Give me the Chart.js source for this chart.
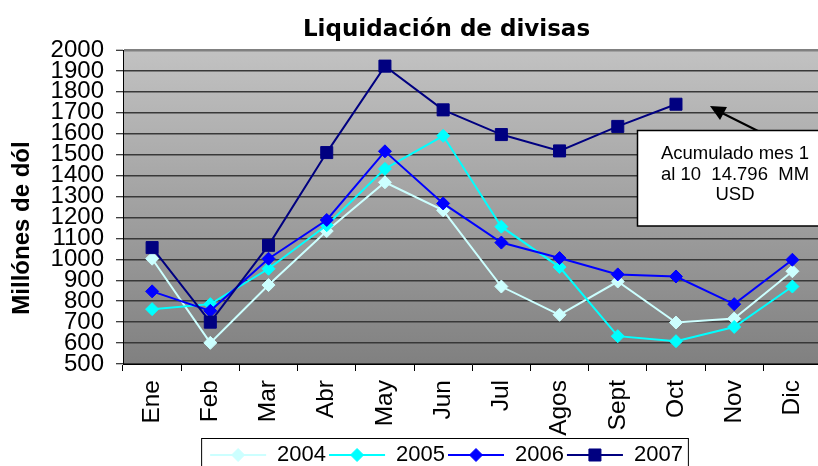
<!DOCTYPE html>
<html>
<head>
<meta charset="utf-8">
<script src="https://cdn.jsdelivr.net/npm/chart.js@4/dist/chart.umd.min.js"></script>
<style>
  html, body { margin: 0; padding: 0; background: #ffffff; overflow: hidden; }
  #wrap { width: 818px; height: 466px; overflow: hidden; position: relative; }
  canvas { display: block; }
</style>
</head>
<body>
<div id="wrap"><canvas id="c" width="893" height="466"></canvas></div>
<script>
// ---- data ----
const categories = ['Ene', 'Feb', 'Mar', 'Abr', 'May', 'Jun', 'Jul', 'Agos', 'Sept', 'Oct', 'Nov', 'Dic'];
const seriesNames = ['2004', '2005', '2006', '2007'];
const values2004 = [1003, 601, 877, 1135, 1368, 1234, 870, 735, 894, 698, 717, 943];
const values2005 = [762, 786, 955, 1163, 1432, 1590, 1156, 963, 633, 609, 677, 870];
const values2006 = [847, 754, 1003, 1188, 1516, 1267, 1080, 1006, 928, 918, 786, 998];
const values2007 = [1056, 700, 1067, 1510, 1923, 1714, 1596, 1518, 1635, 1741, null, null];
const yTickValues = [500, 600, 700, 800, 900, 1000, 1100, 1200, 1300, 1400, 1500, 1600, 1700, 1800, 1900, 2000];
const chartTitle = 'Liquidación de divisas';
const yAxisTitle = 'Millónes de dól';
const annotationLines = ['Acumulado mes 1', 'al 10  14.796  MM', 'USD'];

const seriesColors = ['#ccffff', '#00ffff', '#0000ff', '#000080'];
const seriesMarkers = ['rectRot', 'rectRot', 'rectRot', 'rect'];
const markerRadius = [6.5, 6.5, 6.5, 8.5];
const seriesValues = [values2004, values2005, values2006, values2007];

const LEGEND_BOX_W = 56;

const datasets = seriesNames.map((name, i) => ({
  label: name,
  data: seriesValues[i],
  borderColor: seriesColors[i],
  backgroundColor: seriesColors[i],
  borderWidth: 2,
  pointStyle: seriesMarkers[i],
  pointRadius: markerRadius[i],
  pointHoverRadius: markerRadius[i],
  pointBackgroundColor: seriesColors[i],
  pointBorderColor: seriesColors[i],
  pointBorderWidth: 1,
  tension: 0,
  spanGaps: false,
  order: seriesNames.length - i
}));

// ---- plugins ----
const plotBackground = {
  id: 'plotBackground',
  beforeDraw(chart) {
    const { ctx, chartArea: a } = chart;
    const g = ctx.createLinearGradient(0, a.top, 0, a.bottom);
    g.addColorStop(0, '#c2c2c2');
    g.addColorStop(1, '#808080');
    ctx.save();
    ctx.fillStyle = g;
    ctx.fillRect(a.left, a.top, a.right - a.left, a.bottom - a.top);
    ctx.restore();
  }
};

const yTitlePlugin = {
  id: 'yTitlePlugin',
  afterDraw(chart) {
    const { ctx, chartArea: a } = chart;
    ctx.save();
    ctx.translate(a.left - 101, (a.top + a.bottom) / 2 + 21);
    ctx.rotate(-Math.PI / 2);
    ctx.font = 'bold 24px "Liberation Sans", Arial, sans-serif';
    ctx.fillStyle = '#000000';
    ctx.textAlign = 'center';
    ctx.textBaseline = 'middle';
    ctx.fillText(yAxisTitle, 0, 0);
    ctx.restore();
  }
};

const legendDecor = {
  id: 'legendDecor',
  afterDraw(chart) {
    const { ctx } = chart;
    const lg = chart.legend;
    if (!lg || !lg.legendHitBoxes || !lg.legendHitBoxes.length) return;
    const hbs = lg.legendHitBoxes;
    ctx.save();
    hbs.forEach((hb, i) => {
      const ds = chart.data.datasets[i];
      ctx.fillStyle = ds.pointBackgroundColor;
      ctx.strokeStyle = ds.pointBorderColor;
      ctx.lineWidth = 1;
      Chart.helpers.drawPoint(ctx, {
        pointStyle: ds.pointStyle,
        radius: ds.pointRadius,
        rotation: 0,
        borderWidth: 1
      }, hb.left + LEGEND_BOX_W / 2, hb.top + hb.height / 2);
    });
    const first = hbs[0], last = hbs[hbs.length - 1];
    const left = first.left - 8.5;
    const right = last.left + last.width + 5.5;
    ctx.strokeStyle = '#000000';
    ctx.lineWidth = 1;
    ctx.strokeRect(left, 438.5, right - left, 40);
    ctx.restore();
  }
};

const annotationPlugin = {
  id: 'annotationPlugin',
  afterDraw(chart) {
    const { ctx } = chart;
    ctx.save();
    // arrow
    ctx.strokeStyle = '#000000';
    ctx.fillStyle = '#000000';
    ctx.lineWidth = 2;
    ctx.beginPath();
    ctx.moveTo(758, 131);
    ctx.lineTo(722, 113);
    ctx.stroke();
    ctx.beginPath();
    ctx.moveTo(710, 106);
    ctx.lineTo(727, 107);
    ctx.lineTo(720, 120);
    ctx.closePath();
    ctx.fill();
    // box
    ctx.fillStyle = '#ffffff';
    ctx.fillRect(637.5, 130.5, 200, 95.5);
    ctx.strokeStyle = '#000000';
    ctx.lineWidth = 1.5;
    ctx.strokeRect(637.5, 130.5, 200, 95.5);
    // text
    ctx.fillStyle = '#000000';
    ctx.font = '18.5px "Liberation Sans", Arial, sans-serif';
    ctx.textAlign = 'center';
    ctx.textBaseline = 'middle';
    const ys = [154, 174.5, 195];
    annotationLines.forEach((t, i) => ctx.fillText(t, 735, ys[i]));
    ctx.restore();
  }
};

new Chart(document.getElementById('c'), {
  type: 'line',
  data: { labels: categories, datasets },
  plugins: [plotBackground, yTitlePlugin, legendDecor, annotationPlugin],
  options: {
    responsive: false,
    animation: false,
    devicePixelRatio: 1,
    layout: { padding: { left: 0, right: 0, top: 0, bottom: -10 } },
    events: [],
    plugins: {
      tooltip: { enabled: false },
      title: {
        display: true,
        text: chartTitle,
        color: '#000000',
        font: { family: '"DejaVu Sans", sans-serif', size: 23, weight: 'bold', lineHeight: 1.2 },
        padding: { top: 16, bottom: 6.4 }
      },
      legend: {
        display: true,
        position: 'bottom',
        labels: {
          color: '#000000',
          font: { family: '"Liberation Sans", Arial, sans-serif', size: 22 },
          boxWidth: LEGEND_BOX_W,
          boxHeight: 2,
          padding: 3,
          generateLabels(chart) {
            return chart.data.datasets.map((ds, i) => ({
              text: ds.label,
              fillStyle: ds.borderColor,
              strokeStyle: ds.borderColor,
              lineWidth: 0,
              hidden: false,
              datasetIndex: i,
              fontColor: '#000000'
            }));
          }
        }
      }
    },
    scales: {
      x: {
        type: 'category',
        offset: true,
        grid: {
          offset: true,
          drawOnChartArea: false,
          drawTicks: true,
          tickLength: 7,
          tickColor: '#000000',
          tickWidth: 1
        },
        border: { display: true, color: '#000000', width: 1 },
        ticks: {
          color: '#000000',
          font: { family: '"Liberation Sans", Arial, sans-serif', size: 24.5 },
          minRotation: 90,
          maxRotation: 90,
          autoSkip: false,
          padding: 9
        },
        afterFit(scale) { scale.height = 77; }
      },
      y: {
        type: 'linear',
        position: 'left',
        min: yTickValues[0],
        max: yTickValues[yTickValues.length - 1],
        afterBuildTicks(scale) { scale.ticks = yTickValues.map(v => ({ value: v })); },
        grid: {
          color(ctx) { return ctx.tick && ctx.tick.value === 2000 ? '#808080' : '#383838'; },
          lineWidth(ctx) { return ctx.tick && ctx.tick.value === 2000 ? 2.5 : 1.5; },
          drawTicks: true,
          tickLength: 7,
          tickColor: '#000000',
          tickWidth: 1
        },
        border: { display: true, color: '#000000', width: 1 },
        ticks: {
          color: '#000000',
          font: { family: '"Liberation Sans", Arial, sans-serif', size: 24 },
          autoSkip: false,
          padding: 12,
          callback(value) { return String(value); }
        },
        afterFit(scale) { scale.width = 123; }
      },
      yRightSpace: {
        type: 'linear',
        position: 'right',
        display: true,
        grid: { display: false, drawTicks: false },
        border: { display: false },
        ticks: { display: false },
        afterFit(scale) { scale.width = 71.5; }
      }
    }
  }
});
</script>
</body>
</html>
